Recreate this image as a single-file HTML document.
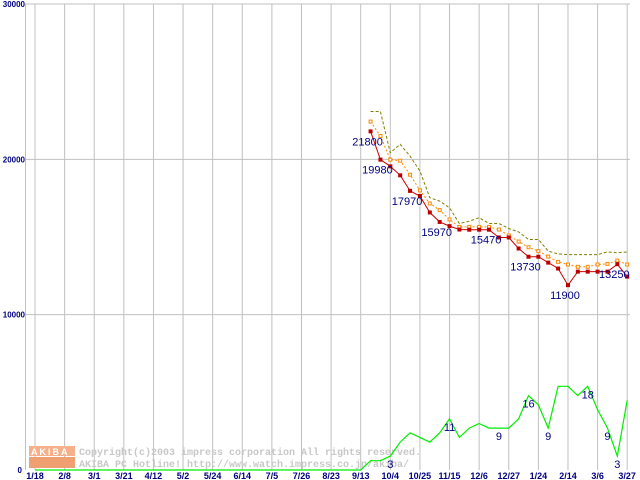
<!DOCTYPE html>
<html><head><meta charset="utf-8"><style>
body{margin:0;background:#fff;width:640px;height:480px;overflow:hidden}
svg{display:block;font-family:"Liberation Sans",sans-serif}
</style></head><body>
<svg id="chart" width="640" height="480" viewBox="0 0 640 480"></svg>
<script>
const xLabels=["1/18","2/8","3/1","3/21","4/12","5/2","5/24","6/14","7/5","7/26","8/23","9/13","10/4","10/25","11/15","12/6","12/27","1/24","2/14","3/6","3/27"];
const yTicks=[0,10000,20000,30000];
const startWeek=34;
const minPrice=[21800,19980,19550,18970,17970,17640,16580,15970,15700,15480,15470,15470,15470,14970,14970,14260,13730,13730,13350,12970,11900,12770,12770,12770,12770,13250,12450];
const avgPrice=[22430,21500,19980,19910,19010,18000,17160,16730,16130,15650,15650,15650,15650,15480,15100,14710,14340,14090,13740,13400,13230,13080,13080,13230,13270,13480,13230];
const maxPrice=[23080,23080,20430,20970,20200,19250,17530,17310,16880,15870,16020,16240,15870,15870,15550,15330,14840,14840,14090,13910,13870,13870,13870,13870,14040,13980,14040];
const shopCount=[0,0,0,0,0,0,0,0,0,0,0,0,0,0,0,0,0,0,0,0,0,0,0,0,0,0,0,0,0,0,0,0,0,0,2,2,3,6,8,7,6,8,11,7,9,10,9,9,9,11,16,14,9,18,18,16,18,13,9,3,15];
const priceLabelWeeks=[34,35,38,41,46,50,54,59];
const countLabelWeeks=[36,42,47,50,52,56,58,59];
const NS="http://www.w3.org/2000/svg";
const svg=document.getElementById('chart');
const X0=35,WK=9.87,Y0=470,YT=4;
function xw(w){return X0+w*WK;}
function yp(v){return Y0-(v/30000)*(Y0-YT);}
function yc(v){return Y0-v*4.65;}
function mk(tag,attrs){const e=document.createElementNS(NS,tag);for(const k in attrs)e.setAttribute(k,attrs[k]);svg.appendChild(e);return e;}
let e=mk('line',{x1:25,y1:YT,x2:630,y2:YT,stroke:'#c0c0c0'});


e=mk('line',{x1:25.5,y1:YT,x2:25.5,y2:Y0,stroke:'#c0c0c0'});


yTicks.forEach(t=>{
  if(t>0&&t<30000){const g=mk('line',{x1:25,y1:yp(t),x2:630,y2:yp(t),stroke:'#c0c0c0'});
  
  }
  const tx=mk('text',{x:t===0?22:25,y:yp(t)+3,'text-anchor':'end','font-size':8,'font-weight':'bold',fill:'#000080'});
  tx.textContent=t;
  
  
});
xLabels.forEach((l,i)=>{
  const x=xw(i*3);
  const g=mk('line',{x1:x,y1:YT,x2:x,y2:Y0,stroke:'#c0c0c0'});
  
  
  const tx=mk('text',{x:x,y:479,'text-anchor':'middle','font-size':9,'font-weight':'bold',fill:'#000080'});
  tx.textContent=l;
  
  
});
e=mk('rect',{x:29,y:446,width:46,height:10,fill:'#f5b08a'});


e=mk('rect',{x:29,y:457,width:46,height:11,fill:'#f0a070'});


e=mk('text',{x:31,y:455,'font-size':9,'font-weight':'bold',fill:'#fff','letter-spacing':'2'});e.textContent='AKIBA';


e=mk('text',{x:79,y:455,'font-size':10,'font-weight':'bold',fill:'#c8c8c8','font-family':'Liberation Mono, monospace'});e.textContent='Copyright(c)2003 impress corporation All rights reserved.';


e=mk('text',{x:79,y:467,'font-size':10,'font-weight':'bold',fill:'#c8c8c8','font-family':'Liberation Mono, monospace'});e.textContent='AKIBA PC Hotline! http://www.watch.impress.co.jp/akiba/';


function poly(arr,f,start,attrs,name){
  const pts=arr.map((v,i)=>xw(start+i).toFixed(1)+','+f(v).toFixed(1)).join(' ');
  const p=mk('polyline',Object.assign({points:pts,fill:'none'},attrs));
  
  
}
poly(shopCount,yc,0,{stroke:'#00ee00','stroke-width':1.2},'shop-count-line');
poly(maxPrice,yp,startWeek,{stroke:'#808000','stroke-dasharray':'3,2'},'max-price-line');
poly(avgPrice,yp,startWeek,{stroke:'#ff8800','stroke-dasharray':'2,2'},'avg-price-line');
poly(minPrice,yp,startWeek,{stroke:'#cc0000'},'min-price-line');
avgPrice.forEach((v,i)=>{const r=mk('rect',{x:xw(startWeek+i)-1.5,y:yp(v)-1.5,width:3,height:3,fill:'#fff',stroke:'#ff8800'});

});
minPrice.forEach((v,i)=>{const r=mk('rect',{x:xw(startWeek+i)-2,y:yp(v)-2,width:4,height:4,fill:'#bb0000'});

});
priceLabelWeeks.forEach(w=>{const v=minPrice[w-startWeek];
const t=mk('text',{x:xw(w)-3,y:yp(v)+14,'text-anchor':'middle','font-size':11,fill:'#000080'});t.textContent=v;

});
countLabelWeeks.forEach(w=>{const v=shopCount[w];
const t=mk('text',{x:xw(w),y:yc(v)+12,'text-anchor':'middle','font-size':11,fill:'#000080'});t.textContent=v;

});
</script>
</body></html>
